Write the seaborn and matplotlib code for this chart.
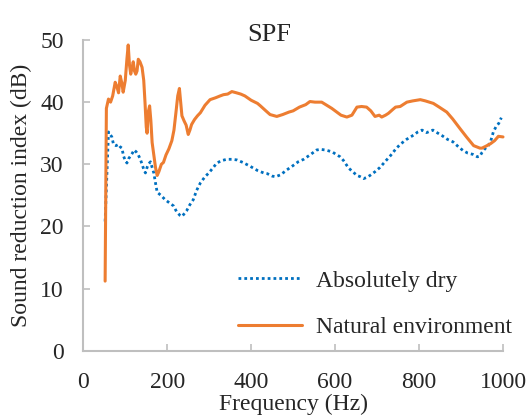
import numpy as np
import pandas as pd
import matplotlib
matplotlib.use("Agg")
import matplotlib.pyplot as plt
import seaborn as sns

# -------------------------
# Data
# -------------------------
natural_f = [52, 55, 60, 65, 70, 76, 80, 84, 88, 92, 95, 100, 104, 107, 110, 113,
             116, 119, 122, 125, 128, 131, 135, 140, 144, 147, 150, 152, 155, 158,
             161, 164, 168, 172, 176, 180, 186, 191, 197, 204, 211, 216, 221, 225,
             229, 232, 235, 240, 245, 250, 254, 258, 265, 272, 279, 290, 302, 315,
             326, 334, 344, 354, 365, 375, 385, 400, 415, 422, 435, 445, 461, 475,
             490, 500, 515, 530, 540, 552, 560, 568, 580, 592, 604, 614, 628, 640,
             652, 663, 675, 685, 695, 705, 711, 720, 727, 737, 744, 755, 771, 785,
             803, 815, 834, 848, 866, 880, 898, 913, 930, 945, 950, 959, 970, 980,
             989, 1000]
natural_db = [11.2, 39.0, 40.5, 40.0, 41.0, 43.2, 42.5, 41.5, 44.2, 43.0, 41.6, 43.5,
              47.0, 49.2, 46.0, 44.5, 45.5, 46.5, 45.0, 44.5, 45.0, 46.9, 46.5, 45.6,
              43.5, 40.0, 36.0, 35.0, 38.5, 39.4, 37.0, 33.5, 31.5, 29.5, 28.2, 28.8,
              30.0, 30.3, 31.5, 32.5, 33.8, 35.5, 38.5, 41.0, 42.2, 40.0, 37.8, 37.0,
              36.3, 34.8, 35.5, 36.4, 37.2, 37.8, 38.3, 39.5, 40.4, 40.7, 41.0, 41.2,
              41.3, 41.7, 41.5, 41.3, 41.0, 40.3, 39.8, 39.4, 38.6, 38.0, 37.7, 38.0,
              38.4, 38.6, 39.2, 39.6, 40.1, 40.0, 40.0, 40.0, 39.5, 39.0, 38.4, 37.9,
              37.6, 37.9, 39.2, 39.3, 39.2, 38.6, 37.7, 37.9, 37.6, 37.9, 38.2, 38.8,
              39.2, 39.3, 40.0, 40.2, 40.4, 40.2, 39.8, 39.2, 38.4, 37.3, 35.7, 34.4,
              33.0, 32.6, 32.6, 32.9, 33.3, 33.8, 34.5, 34.4]

dry_f = [52, 56, 60, 64, 68, 72, 78, 84, 88, 92, 96, 100, 104, 108, 112, 117, 121,
         126, 131, 136, 140, 144, 148, 152, 155, 160, 164, 168, 172, 176, 185, 195,
         205, 215, 222, 230, 235, 240, 246, 254, 262, 270, 279, 290, 299, 310, 318,
         330, 342, 355, 366, 380, 397, 415, 430, 438, 450, 458, 470, 485, 500, 512,
         525, 540, 556, 565, 577, 593, 602, 612, 620, 632, 642, 652, 660, 668, 676,
         683, 695, 707, 720, 732, 745, 755, 770, 787, 797, 807, 818, 833, 845, 855,
         868, 881, 894, 905, 916, 928, 939, 945, 950, 957, 965, 971, 977, 983, 990,
         996]
dry_db = [20.8, 28.0, 35.2, 34.8, 34.4, 33.2, 33.0, 33.2, 32.8, 32.6, 31.3, 30.6,
          30.2, 30.9, 31.3, 31.8, 32.3, 32.0, 31.5, 30.8, 30.0, 29.2, 28.6, 29.5,
          30.0, 30.4, 29.5, 28.6, 27.0, 25.5, 25.0, 24.3, 23.8, 23.3, 22.4, 21.8,
          21.6, 22.0, 22.5, 23.5, 24.3, 25.8, 27.0, 28.0, 28.6, 29.5, 30.2, 30.6,
          30.8, 30.8, 30.7, 30.3, 29.7, 29.0, 28.6, 28.5, 28.1, 28.0, 28.3, 29.1,
          29.8, 30.4, 30.8, 31.5, 32.3, 32.4, 32.3, 32.0, 31.6, 31.2, 30.6, 29.4,
          28.8, 28.2, 28.0, 27.7, 27.9, 28.2, 28.8, 29.5, 30.5, 31.4, 32.5, 33.2,
          34.0, 34.7, 35.2, 35.5, 35.1, 35.5, 35.0, 34.6, 34.0, 33.6, 32.8, 32.2,
          31.8, 31.6, 31.2, 31.3, 31.9, 32.5, 33.0, 33.8, 35.2, 36.0, 36.6, 37.5]

title = "SPF"
x_label = "Frequency (Hz)"
y_label = "Sound reduction index (dB)"
x_ticks = [0, 200, 400, 600, 800, 1000]
y_ticks = [0, 10, 20, 30, 40, 50]

# -------------------------
# Plot
# -------------------------
sns.set_style("ticks")
plt.rcParams['font.family'] = ['Liberation Serif', 'DejaVu Serif']

FS = 17
GRAY = "#BFBFBF"

fig = plt.figure(figsize=(5.29, 4.18), dpi=100)
ax = fig.add_axes([83.3 / 529, 1 - 350.7 / 418, (503 - 83.3) / 529, (350.7 - 40) / 418])

dry = pd.DataFrame({'f': dry_f, 'db': dry_db})
nat = pd.DataFrame({'f': natural_f, 'db': natural_db})

sns.lineplot(data=dry, x='f', y='db', ax=ax, color="#0070C0", linewidth=2.0,
             label="Absolutely dry", clip_on=False)
ax.lines[-1].set_dashes((1, 1.1))
sns.lineplot(data=nat, x='f', y='db', ax=ax, color="#ED7D31", linewidth=2.2,
             label="Natural environment", clip_on=False)

ax.set_xlim(0, 1000)
ax.set_ylim(0, 50)
ax.set_xticks(x_ticks)
ax.set_yticks(y_ticks)
ax.tick_params(direction='in', length=5, width=1.2, color=GRAY, labelsize=FS)
ax.tick_params(axis='y', pad=14)
ax.tick_params(axis='x', pad=15)

for side in ['top', 'right']:
    ax.spines[side].set_visible(False)
for side in ['left', 'bottom']:
    ax.spines[side].set_color(GRAY)
    ax.spines[side].set_linewidth(1.5)

ax.set_xlabel(x_label, fontsize=FS)
ax.set_ylabel(y_label, fontsize=FS)
ax.xaxis.set_label_coords(0.5, -0.138)
ax.yaxis.set_label_coords(-0.122, 0.5)

fig.text(269 / 529, 1 - 41 / 418, title, fontsize=19, ha='center', va='baseline')

ax.legend(loc='upper left', bbox_to_anchor=(238 / 529, 1 - 270 / 418),
          bbox_transform=fig.transFigure, frameon=False, fontsize=FS,
          borderpad=0, borderaxespad=0, handlelength=2.7, handletextpad=0.6,
          labelspacing=1.06)

fig.savefig("out.png", dpi=100)
